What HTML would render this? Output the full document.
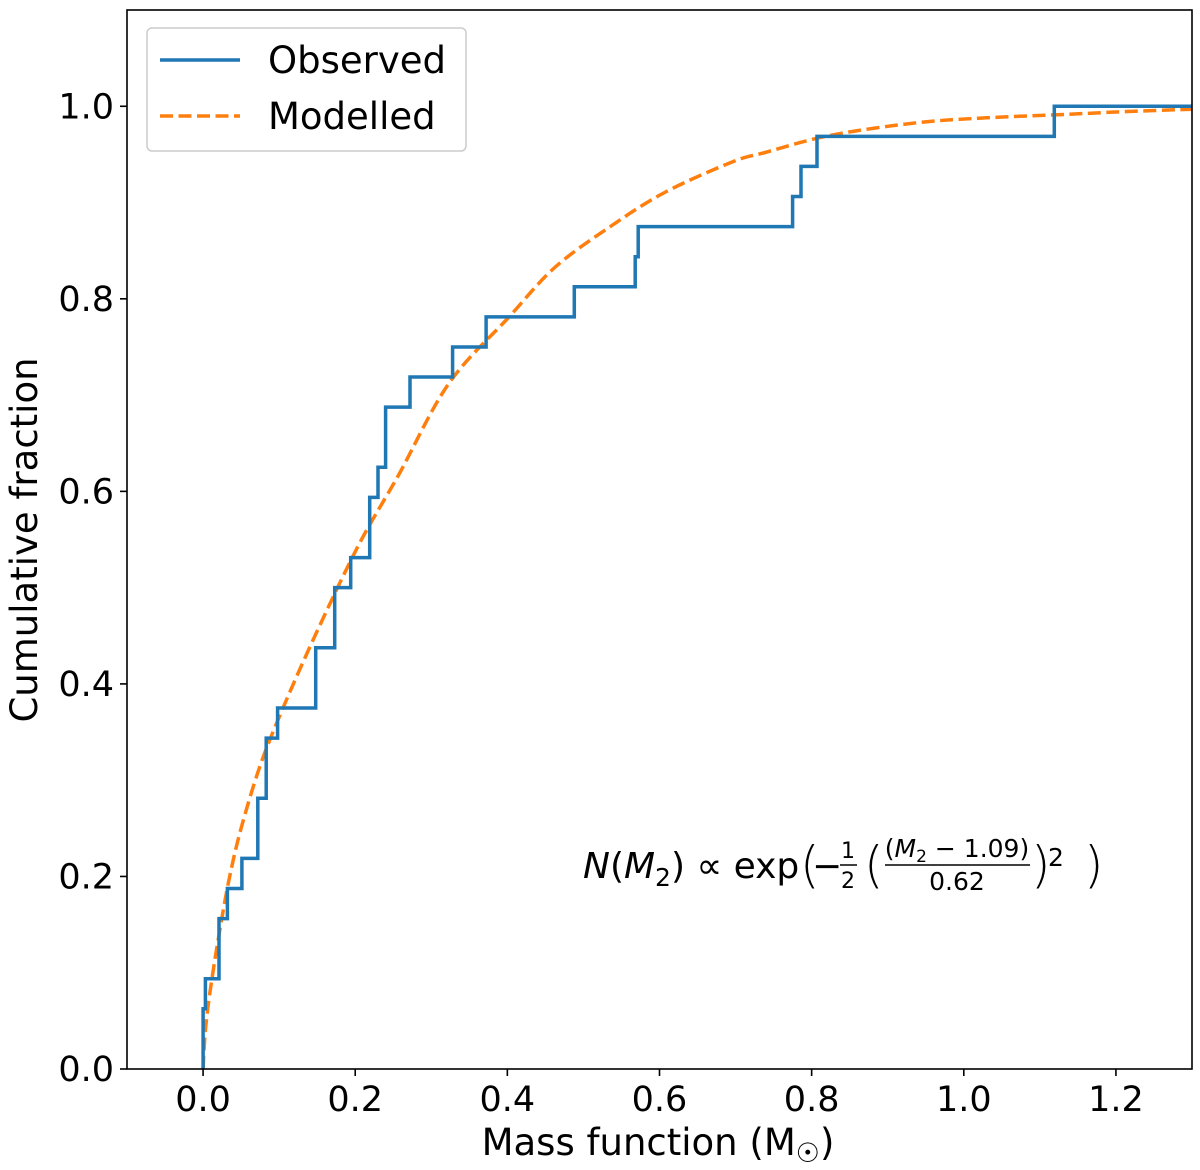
<!DOCTYPE html>
<html><head><meta charset="utf-8"><style>
html,body{margin:0;padding:0;background:#fff}
svg{display:block;font-family:"DejaVu Sans","Liberation Sans",sans-serif}
</style></head><body>
<svg id="chart" width="1200" height="1170" viewBox="0 0 1200 1170" xmlns="http://www.w3.org/2000/svg">
<g id="plot"></g>
</svg>
<script>
const xTicks=[0.0,0.2,0.4,0.6,0.8,1.0,1.2];
const xTickLabels=["0.0","0.2","0.4","0.6","0.8","1.0","1.2"];
const yTicks=[0.0,0.2,0.4,0.6,0.8,1.0];
const yTickLabels=["0.0","0.2","0.4","0.6","0.8","1.0"];
const observedMasses=[0.000,0.000,0.003,0.021,0.021,0.032,0.051,0.072,0.072,0.083,0.083,0.098,0.148,0.148,0.173,0.173,0.194,0.219,0.219,0.230,0.240,0.240,0.272,0.328,0.372,0.488,0.568,0.572,0.775,0.786,0.807,1.119];
const modelX=[0,0.002,0.005,0.01,0.02,0.034,0.05,0.075,0.104,0.15,0.205,0.257,0.323,0.402,0.463,0.537,0.608,0.695,0.739,0.826,0.94,1.03,1.119,1.2,1.3];
const modelY=[0,0.03,0.055,0.085,0.135,0.196,0.25,0.315,0.373,0.455,0.545,0.617,0.712,0.781,0.833,0.876,0.911,0.942,0.952,0.970,0.983,0.988,0.991,0.994,0.997];

const NS="http://www.w3.org/2000/svg";
const L=127,R=1192,T=10,B=1069;
const xMin=-0.1,xMax=1.3,yMin=0,yMax=1.1;
const sx=v=>L+(v-xMin)/(xMax-xMin)*(R-L);
const sy=v=>B-(v-yMin)/(yMax-yMin)*(B-T);
const g=document.getElementById('plot');
function mk(tag,attrs,parent){const e=document.createElementNS(NS,tag);for(const k in attrs)e.setAttribute(k,attrs[k]);(parent||g).appendChild(e);return e;}

// modelled curve (smooth via Catmull-Rom)
const pts=modelX.map((x,i)=>[sx(x),sy(modelY[i])]);
let d="M"+pts[0][0].toFixed(1)+","+pts[0][1].toFixed(1);
for(let i=0;i<pts.length-1;i++){
  const p0=pts[Math.max(0,i-1)],p1=pts[i],p2=pts[i+1],p3=pts[Math.min(pts.length-1,i+2)];
  const c1=[p1[0]+(p2[0]-p0[0])/6,p1[1]+(p2[1]-p0[1])/6];
  const c2=[p2[0]-(p3[0]-p1[0])/6,p2[1]-(p3[1]-p1[1])/6];
  d+="C"+c1[0].toFixed(1)+","+c1[1].toFixed(1)+" "+c2[0].toFixed(1)+","+c2[1].toFixed(1)+" "+p2[0].toFixed(1)+","+p2[1].toFixed(1);
}
const model=mk('path',{d:d,fill:'none',stroke:'#ff7f0e','stroke-width':3.5,'stroke-dasharray':'13,5.5'});



// observed step
const n=observedMasses.length;
let s="M"+sx(observedMasses[0]).toFixed(1)+","+sy(0).toFixed(1);
observedMasses.forEach((m,i)=>{s+="H"+sx(m).toFixed(1)+"V"+sy((i+1)/n).toFixed(1);});
s+="H"+sx(xMax).toFixed(1);
const obs=mk('path',{d:s,fill:'none',stroke:'#1f77b4','stroke-width':3.5});



// frame
const fr=mk('rect',{x:L,y:T,width:R-L,height:B-T,fill:'none',stroke:'#000','stroke-width':1.6});



xTicks.forEach((v,i)=>{
  const x=sx(v);
  mk('line',{x1:x,x2:x,y1:B,y2:B+7,stroke:'#000','stroke-width':1.6});
  const t=mk('text',{x:x,y:B+42,'font-size':35,'text-anchor':'middle'});
  t.textContent=xTickLabels[i];
  
  
});
yTicks.forEach((v,i)=>{
  const y=sy(v);
  mk('line',{x1:L-7,x2:L,y1:y,y2:y,stroke:'#000','stroke-width':1.6});
  const t=mk('text',{x:L-13,y:y+12,'font-size':35,'text-anchor':'end'});
  t.textContent=yTickLabels[i];
  
  
});
</script>
<svg style="position:absolute;left:0;top:0" width="1200" height="1170" xmlns="http://www.w3.org/2000/svg" font-family="DejaVu Sans, Liberation Sans, sans-serif">
<text x="658" y="1155" font-size="37" text-anchor="middle">Mass function (M<tspan font-size="27" dy="7">☉</tspan><tspan dy="-7">)</tspan></text>
<text transform="translate(37,540) rotate(-90)" font-size="37" text-anchor="middle">Cumulative fraction</text>
<g>
<rect x="147" y="28" width="319" height="123" rx="5" fill="#fff" fill-opacity="0.8" stroke="#ccc" stroke-width="1.5"/>
<line x1="160" y1="60" x2="240" y2="60" stroke="#1f77b4" stroke-width="3.5"/>
<text x="268" y="73" font-size="37">Observed</text>
<line x1="160" y1="116" x2="240" y2="116" stroke="#ff7f0e" stroke-width="3.5" stroke-dasharray="13,5.5"/>
<text x="268" y="129" font-size="37">Modelled</text>
</g>
<g font-size="36">
<text x="583" y="878"><tspan font-style="italic">N</tspan>(<tspan font-style="italic">M</tspan><tspan font-size="25" dy="8">2</tspan><tspan dy="-8">) ∝ exp</tspan></text>
<text x="800" y="882" font-size="50" font-weight="100">(</text>
<text x="812" y="878">−</text>
<text x="848" y="858" font-size="22" text-anchor="middle">1</text>
<line x1="840" y1="865" x2="857" y2="865" stroke="#000" stroke-width="1.5"/>
<text x="848" y="888" font-size="22" text-anchor="middle">2</text>
<text x="864" y="882" font-size="50" font-weight="100">(</text>
<text x="957" y="857" font-size="25" text-anchor="middle">(<tspan font-style="italic">M</tspan><tspan font-size="17" dy="5">2</tspan><tspan dy="-5"> − 1.09)</tspan></text>
<line x1="885" y1="865" x2="1030" y2="865" stroke="#000" stroke-width="1.5"/>
<text x="957" y="890" font-size="25" text-anchor="middle">0.62</text>
<text x="1031" y="882" font-size="50" font-weight="100">)</text>
<text x="1048" y="866" font-size="25">2</text>
<text x="1084" y="882" font-size="50" font-weight="100">)</text>
</g>
</svg>
</body></html>
